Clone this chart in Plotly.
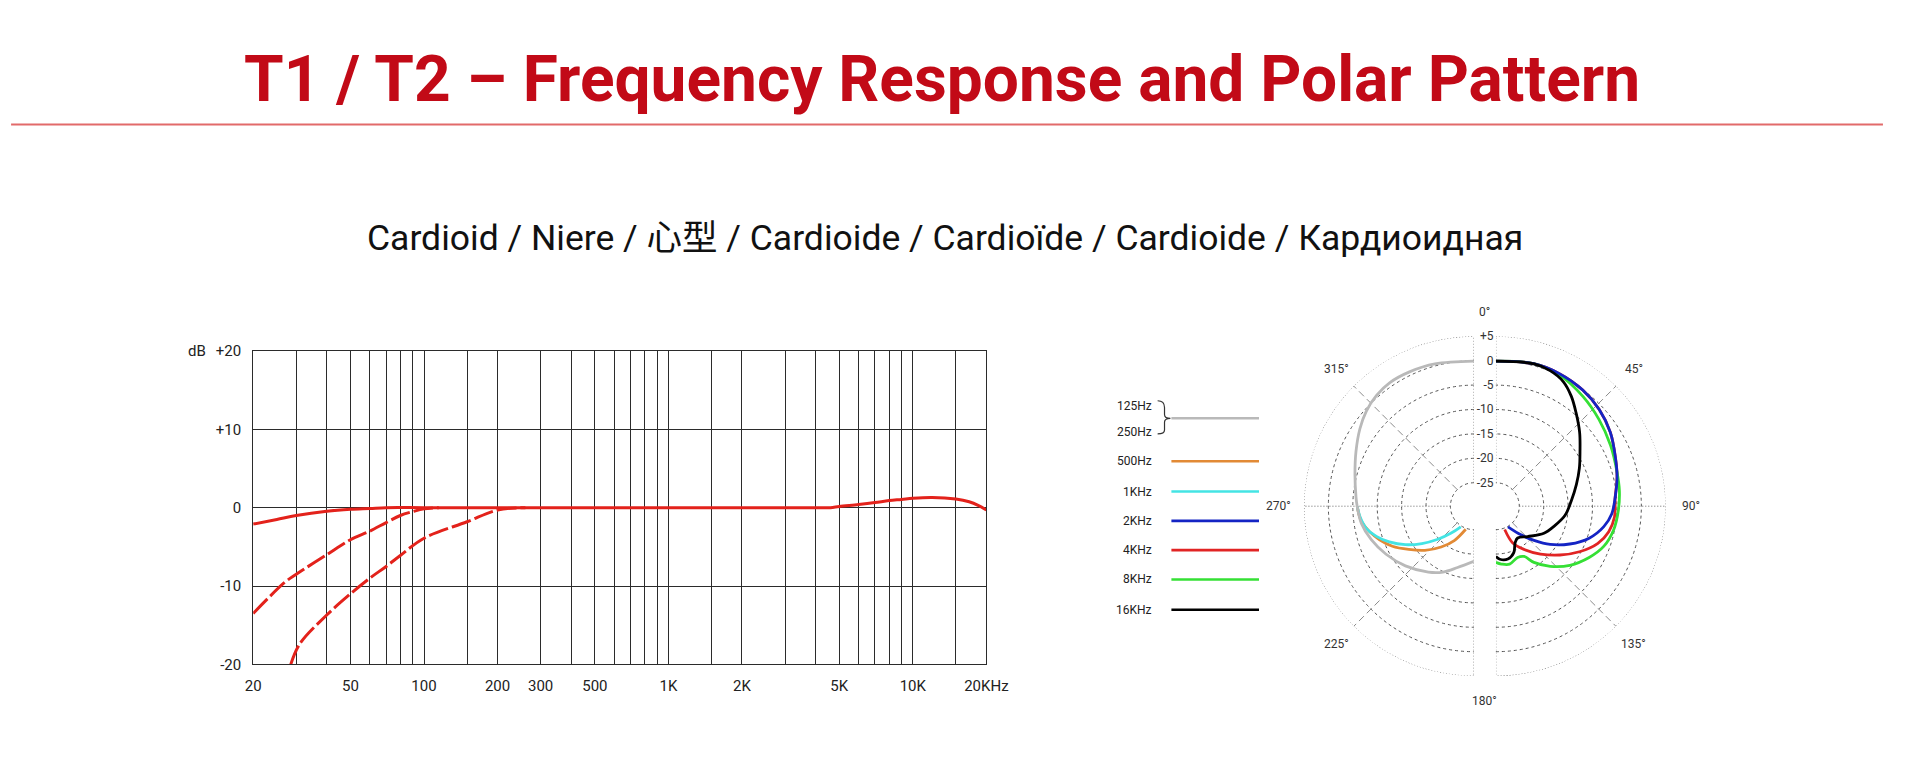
import math
import plotly.graph_objects as go

W, H = 1910, 780          # browser window
OFF = 8                   # default body margin of the page
FW, FH = W - 2 * OFF, H - 2 * OFF

# ---------------- Frequency response data ----------------
FR_TICK_VALS = [20, 50, 100, 200, 300, 500, 1000, 2000, 5000, 10000, 20000]
FR_TICK_TEXT = ["20", "50", "100", "200", "300", "500", "1K", "2K", "5K", "10K", "20KHz"]
FR_MINOR_GRID = [30, 40, 60, 70, 80, 90, 150, 400, 600, 700, 800, 900,
                 1500, 3000, 4000, 6000, 7000, 8000, 9000, 15000]
DB_TICK_VALS = [-20, -10, 0, 10, 20]
DB_TICK_TEXT = ["-20", "-10", "0", "+10", "+20"]

FLAT_FREQ = [20, 25, 30, 40, 50, 60, 70, 100, 200, 500, 1000, 2000, 3000, 4000, 4600,
             5000, 6000, 7000, 8000, 9000, 10000, 12000, 15000, 17000, 18500, 20000]
FLAT_DB = [-2.1, -1.5, -1.0, -0.45, -0.2, -0.1, 0.0, 0.0, 0.0, 0.0, 0.0, 0.0, 0.0, 0.0, 0.0,
           0.15, 0.4, 0.65, 0.9, 1.05, 1.2, 1.3, 1.1, 0.75, 0.3, -0.3]

CUT1_FREQ = [20, 27, 30, 40, 50, 60, 70, 80, 90, 100, 115]
CUT1_DB = [-13.5, -9.5, -8.5, -6.0, -4.1, -3.0, -1.9, -1.0, -0.5, -0.15, 0.0]

CUT2_FREQ = [28.5, 31, 40, 50, 60, 70, 80, 100, 150, 200, 260]
CUT2_DB = [-20.0, -17.4, -13.7, -11.0, -9.0, -7.5, -6.1, -3.9, -1.8, -0.3, 0.0]

# ---------------- Polar pattern data ----------------
POLAR_R_TICKS = [5, 0, -5, -10, -15, -20, -25]
POLAR_R_TEXT = ["+5", "0", "-5", "-10", "-15", "-20", "-25"]
RIGHT_ANGLES = [0, 45, 90, 135, 180]
LEFT_ANGLES = [225, 270, 315]
RIGHT_DOT_SPOKES = [0, 90, 180]
RIGHT_DASH_SPOKES = [45, 135]
LEFT_DOT_SPOKES = [180, 270, 360]
LEFT_DASH_SPOKES = [225, 315]

LOW_THETA = [360, 344.7, 334.4, 325.8, 318.7, 311.5, 304.1, 294.8, 284.9, 274.3, 270,
             261.3, 251.9, 241.3, 228.9, 214.6, 205.1, 194.9, 180]
LOW_R = [-0.1, 0.4, 0.7, 0.8, 0.4, -0.4, -1.6, -3.2, -4.6, -5.6, -5.9,
         -6.5, -7.7, -9.3, -11.2, -13.4, -14.9, -16.8, -18.5]

F500_THETA = [270, 266, 262.1, 256.3, 250.4, 243.8, 236.4, 228, 218.7, 209.7, 199.4]
F500_R = [-5.9, -6.2, -6.6, -7.8, -9.3, -11.2, -13.8, -16.3, -19.1, -21.7, -24.8]

F1K_THETA = [270, 264.6, 258.4, 252.8, 247.1, 240.7, 234.3, 227.4, 220.1, 212.4]
F1K_R = [-5.9, -6.4, -7.3, -8.9, -11.0, -13.7, -16.7, -19.8, -22.6, -24.8]

F2K_THETA = [0, 14.9, 25.8, 36.8, 46.9, 57.2, 68.2, 76.8, 85.8, 93.7, 100.7,
             108.9, 117.1, 125.2, 131.9, 138.8, 149.6]
F2K_R = [-0.1, 0.4, 0.3, -0.1, -0.8, -1.9, -3.4, -4.3, -5.3, -6.0, -7.3,
         -9.6, -12.8, -16.2, -19.3, -22.0, -24.9]

F4K_THETA = [0, 14.9, 25.8, 36.8, 46.9, 57.2, 68.2, 76.8, 85.8, 95.2, 102.7,
             110.2, 118.6, 127.3, 137, 146.8, 155.3, 159.2]
F4K_R = [-0.1, 0.4, 0.3, -0.1, -0.8, -1.9, -3.4, -4.3, -5.3, -5.4, -6.1,
         -7.6, -10.3, -13.3, -16.4, -19.2, -21.5, -24.7]

F8K_THETA = [0, 14.9, 26.1, 38.4, 49.9, 62, 73.9, 82.9, 92, 101.4, 110.3, 118.8,
             128.6, 137.9, 145.9, 150.7, 157, 166.7, 174.5, 180]
F8K_R = [-0.1, 0.4, 0.05, -1.1, -2.2, -3.2, -4.0, -4.3, -4.7, -5.2, -6.2, -8.0,
         -10.4, -13.2, -15.9, -18.0, -18.4, -17.6, -17.9, -18.3]

F16K_THETA = [0, 15, 21.8, 28.5, 34.5, 40.7, 48.5, 57.2, 65.5, 74.8, 85.8, 97.5,
              109.1, 119.4, 133.8, 145.6, 152.4, 158.9, 167.2, 175.8, 180]
F16K_R = [-0.1, 0.4, 0.1, -0.8, -2.5, -4.6, -6.9, -9.3, -11.0, -12.7, -14.3, -15.5,
          -17.2, -18.5, -20.8, -21.9, -21.3, -19.6, -18.7, -18.9, -19.5]

LEGEND_LABELS = ["125Hz", "250Hz", "500Hz", "1KHz", "2KHz", "4KHz", "8KHz", "16KHz"]
LEGEND_COLORS = ["#b9b9b9", "#e28a35", "#44e4e4", "#1424c4", "#e12424", "#35e035", "#000000"]

TITLE = "T1 / T2 \u2013 Frequency Response and Polar Pattern"
SUBTITLE = "Cardioid / Niere / 心型 / Cardioide / Cardioïde / Cardioide / Кардиоидная"


# ---------------- helpers (screen pixel -> paper) ----------------
def px(x):
    return (x - OFF) / FW


def py(y):
    return 1 - (y - OFF) / FH


RED = "#e3221b"
FONT = "Roboto, 'Noto Sans CJK SC', sans-serif"
POLAR_FONT = dict(family=FONT, size=12, color="#333333")

fig = go.Figure()

# frequency response traces
DASH = "20px,4px"
fig.add_trace(go.Scatter(x=FLAT_FREQ, y=FLAT_DB, mode="lines",
                         line=dict(color=RED, width=3, shape="spline"),
                         xaxis="x", yaxis="y", hoverinfo="skip"))
fig.add_trace(go.Scatter(x=CUT1_FREQ, y=CUT1_DB, mode="lines",
                         line=dict(color=RED, width=3, shape="spline", dash=DASH),
                         xaxis="x", yaxis="y", hoverinfo="skip"))
fig.add_trace(go.Scatter(x=CUT2_FREQ, y=CUT2_DB, mode="lines",
                         line=dict(color=RED, width=3, shape="spline", dash=DASH),
                         xaxis="x", yaxis="y", hoverinfo="skip"))

# polar grid: outer ring and spokes
SPOKE_R = [POLAR_R_TICKS[-1], POLAR_R_TICKS[0]]
for sub, (a0, a1) in (("polar", (0, 180)), ("polar2", (180, 360))):
    ring_theta = list(range(a0, a1 + 1, 2))
    fig.add_trace(go.Scatterpolar(r=[POLAR_R_TICKS[0]] * len(ring_theta), theta=ring_theta,
                                  mode="lines", subplot=sub, cliponaxis=False,
                                  line=dict(color="#555555", width=1, dash="1px,2px"),
                                  hoverinfo="skip"))
for sub, dots, dashes in (("polar", RIGHT_DOT_SPOKES, RIGHT_DASH_SPOKES),
                          ("polar2", LEFT_DOT_SPOKES, LEFT_DASH_SPOKES)):
    for a in dots:
        fig.add_trace(go.Scatterpolar(r=SPOKE_R, theta=[a, a], mode="lines", subplot=sub,
                                      line=dict(color="#666666", width=1, dash="1px,2px"),
                                      hoverinfo="skip"))
    for a in dashes:
        fig.add_trace(go.Scatterpolar(r=SPOKE_R, theta=[a, a], mode="lines", subplot=sub,
                                      line=dict(color="#8a8a8a", width=1, dash="7px,4px"),
                                      hoverinfo="skip"))

# polar curves - left half
for th, rr, col in ((F500_THETA, F500_R, LEGEND_COLORS[1]),
                    (F1K_THETA, F1K_R, LEGEND_COLORS[2]),
                    (LOW_THETA, LOW_R, LEGEND_COLORS[0])):
    fig.add_trace(go.Scatterpolar(r=rr, theta=th, mode="lines", subplot="polar2",
                                  line=dict(color=col, width=2.8, shape="spline"),
                                  hoverinfo="skip"))
# right half
for th, rr, col in ((F4K_THETA, F4K_R, LEGEND_COLORS[4]),
                    (F8K_THETA, F8K_R, LEGEND_COLORS[5]),
                    (F2K_THETA, F2K_R, LEGEND_COLORS[3]),
                    (F16K_THETA, F16K_R, LEGEND_COLORS[6])):
    fig.add_trace(go.Scatterpolar(r=rr, theta=th, mode="lines", subplot="polar",
                                  line=dict(color=col, width=2.8, shape="spline"),
                                  hoverinfo="skip"))

grid_col = "#2b2b2b"
tick_font = dict(family=FONT, size=15, color="#222222")

R_OUT = 174
HOLE = 19 / R_OUT
CY = 509
RX_CENTER = 1511
LX_CENTER = 1490
LABEL_GAP = 25


def polar_layout(xc, sector, show_r_labels, left):
    x0 = xc - R_OUT if left else xc
    x1 = xc if left else xc + R_OUT
    return dict(
        domain=dict(x=[px(x0), px(x1)], y=[py(CY + R_OUT), py(CY - R_OUT)]),
        sector=sector,
        hole=HOLE,
        bgcolor="rgba(0,0,0,0)",
        angularaxis=dict(direction="clockwise", rotation=90,
                         showgrid=False, showline=False, ticks="",
                         showticklabels=False),
        radialaxis=dict(range=[-26, 5], angle=90, side="counterclockwise",
                        tickmode="array", tickvals=POLAR_R_TICKS, ticktext=POLAR_R_TEXT,
                        tickangle=90, showticklabels=show_r_labels,
                        showgrid=True, gridcolor="#555555", griddash="dot", gridwidth=1,
                        showline=False, ticks="", tickfont=POLAR_FONT),
    )


annotations = [
    dict(text=TITLE, x=px(949), y=py(72), xref="paper", yref="paper", showarrow=False,
         xanchor="center", yanchor="middle",
         font=dict(family=FONT, size=64, color="#c20a17", weight=700)),
    dict(text=SUBTITLE, x=px(952), y=py(234), xref="paper", yref="paper", showarrow=False,
         xanchor="center", yanchor="middle",
         font=dict(family=FONT, size=35.5, color="#111111")),
    dict(text="dB", x=px(203), y=py(350), xref="paper", yref="paper", showarrow=False,
         xanchor="right", yanchor="middle", font=tick_font),
]

# polar angle labels, placed just outside the outer ring
for angles, xc in ((RIGHT_ANGLES, RX_CENTER), (LEFT_ANGLES, LX_CENTER)):
    for a in angles:
        cx = (RX_CENTER + LX_CENTER) / 2 if a in (0, 180) else xc
        rad = math.radians(a)
        lx = cx + (R_OUT + LABEL_GAP) * math.sin(rad)
        ly = CY - (R_OUT + LABEL_GAP) * math.cos(rad)
        annotations.append(dict(text=f"{a}°", x=px(lx), y=py(ly), xref="paper", yref="paper",
                                showarrow=False, xanchor="center", yanchor="middle",
                                font=POLAR_FONT))

shapes = [
    dict(type="line", xref="paper", yref="paper", x0=px(3), x1=px(1905), y0=py(118), y1=py(118),
         line=dict(color="#e26a6a", width=2)),
]

# legend (labels left of line samples)
LEG_Y = [406, 433, 463, 494, 524, 554, 584, 615]
for lab, y in zip(LEGEND_LABELS, LEG_Y):
    annotations.append(dict(text=lab, x=px(1164), y=py(y), xref="paper", yref="paper",
                            showarrow=False, xanchor="right", yanchor="middle",
                            font=dict(family=FONT, size=12, color="#222222")))
line_ys = [419] + LEG_Y[2:]
for col, y in zip(LEGEND_COLORS, line_ys):
    shapes.append(dict(type="line", xref="paper", yref="paper", x0=px(1182), x1=px(1271),
                       y0=py(y), y1=py(y), line=dict(color=col, width=2.6)))
# brace
bx = [1168, 1175, 1175, 1181, 1175, 1175, 1168]
by = [401, 404, 415, 419, 423, 432, 435]
path = (f"M {px(bx[0])},{py(by[0])} Q {px(bx[1])},{py(by[0])} {px(bx[1])},{py(by[1] + 4)} "
        f"L {px(bx[2])},{py(by[2])} Q {px(bx[2])},{py(by[3])} {px(bx[3])},{py(by[3])} "
        f"Q {px(bx[4])},{py(by[3])} {px(bx[4])},{py(by[4])} "
        f"L {px(bx[5])},{py(by[5] - 1)} Q {px(bx[5])},{py(by[6])} {px(bx[6])},{py(by[6])}")
shapes.append(dict(type="path", xref="paper", yref="paper", path=path,
                   line=dict(color="#333333", width=1.2)))

fig.update_layout(
    width=FW, height=FH,
    margin=dict(l=0, r=0, t=0, b=0),
    paper_bgcolor="white", plot_bgcolor="white",
    showlegend=False,
    font=dict(family=FONT),
    xaxis=dict(type="log", range=[math.log10(20), math.log10(20000)],
               domain=[px(249), px(994)],
               tickmode="array", tickvals=FR_TICK_VALS, ticktext=FR_TICK_TEXT,
               showgrid=True, gridcolor=grid_col, gridwidth=1,
               minor=dict(tickvals=FR_MINOR_GRID, showgrid=True, gridcolor=grid_col,
                          gridwidth=1, ticks=""),
               showline=True, mirror=True, linecolor=grid_col, linewidth=1,
               zeroline=False, ticks="", tickfont=tick_font, ticklabelstandoff=8),
    yaxis=dict(range=[-20, 20], domain=[py(671), py(350)],
               tickmode="array", tickvals=DB_TICK_VALS, ticktext=DB_TICK_TEXT,
               showgrid=True, gridcolor=grid_col, gridwidth=1,
               showline=True, mirror=True, linecolor=grid_col, linewidth=1,
               zeroline=False, ticks="", tickfont=tick_font, ticklabelstandoff=8),
    polar=polar_layout(RX_CENTER, [-90, 90], True, False),
    polar2=polar_layout(LX_CENTER, [90, 270], False, True),
    annotations=annotations,
    shapes=shapes,
)

fig.write_html("out.html", config={"displayModeBar": False})
